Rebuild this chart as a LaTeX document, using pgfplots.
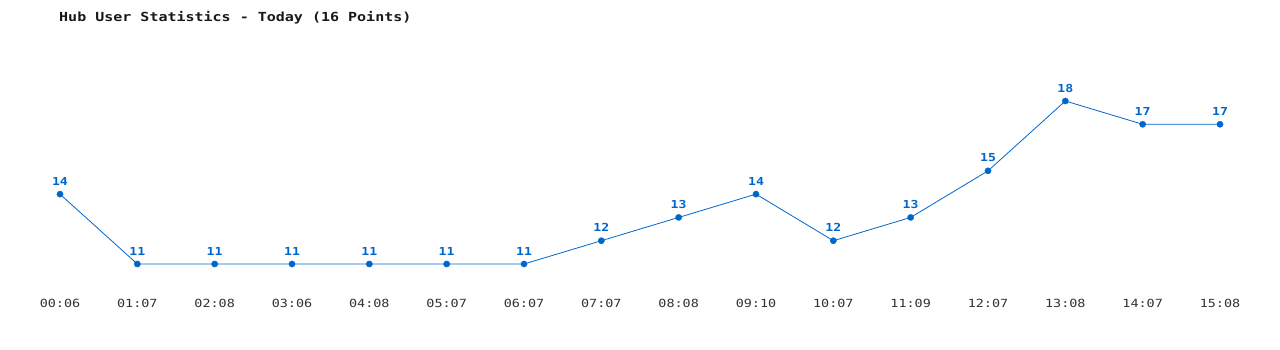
\documentclass[border=0pt]{standalone}
\usepackage{fontspec}
\usepackage{pgfplots}
\pgfplotsset{compat=1.18}
\newfontfamily\mono[FakeStretch=1.2]{DejaVu Sans Mono}
\definecolor{lineblue}{HTML}{0066CC}
\definecolor{ticktext}{HTML}{333333}
\begin{document}
\begin{tikzpicture}
\path[use as bounding box, fill=white] (0pt,0pt) rectangle (1280pt,350pt);
\node[anchor=west, inner sep=0pt, text=black!90] at (59pt,332pt) {\mono\fontsize{12.5}{14}\selectfont\bfseries Hub User Statistics - Today (16 Points)};
\begin{axis}[
  at={(60pt,86pt)}, anchor=south west,
  scale only axis, width=1160pt, height=163pt,
  xmin=0, xmax=15, ymin=11, ymax=18,
  clip=false,
  axis line style={draw=none},
  ytick=\empty,
  xtick={0,...,15},
  major tick length=0pt,
  /pgf/number format/assume math mode=true,
  xticklabels={00:06,01:07,02:08,03:06,04:08,05:07,06:07,07:07,08:08,09:10,10:07,11:09,12:07,13:08,14:07,15:08},
  xticklabel style={anchor=center, yshift=-39pt, inner sep=0pt, text=ticktext, font=\mono\fontsize{11.2}{13}\selectfont},
  nodes near coords,
  nodes near coords style={anchor=center, yshift=13pt, inner sep=0pt, text=lineblue, font=\mono\fontsize{11}{12}\selectfont\bfseries},
]
\addplot[color=lineblue, line width=0.8pt, mark=*, mark size=3.2pt, mark options={fill=lineblue, draw=lineblue, line width=0.2pt}]
coordinates {
(0,14) (1,11) (2,11) (3,11) (4,11) (5,11) (6,11) (7,12) (8,13) (9,14) (10,12) (11,13) (12,15) (13,18) (14,17) (15,17)
};
\end{axis}
\end{tikzpicture}
\end{document}
